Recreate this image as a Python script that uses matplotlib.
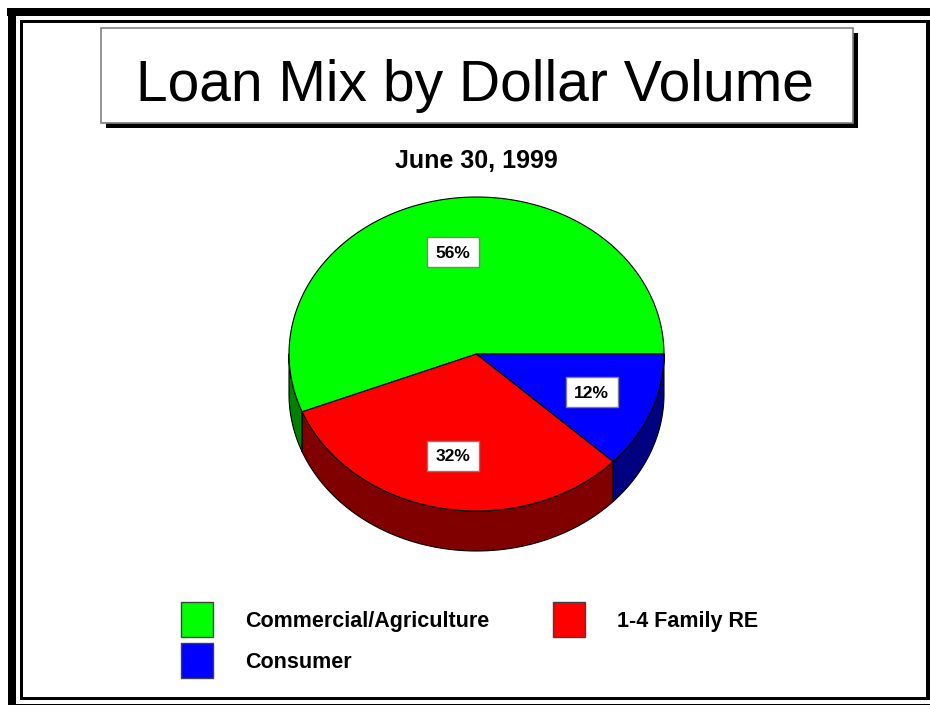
import numpy as np
import matplotlib
matplotlib.use("Agg")
import matplotlib.pyplot as plt
from matplotlib.patches import Rectangle, Polygon

plt.rcParams["font.family"] = ["Liberation Sans", "DejaVu Sans"]

TITLE = "Loan Mix by Dollar Volume"
SUBTITLE = "June 30, 1999"
CATEGORIES = ["Commercial/Agriculture", "1-4 Family RE", "Consumer"]
SHARES = [56, 32, 12]
TOP_COLORS = ["#00ff00", "#ff0000", "#0000ff"]
SIDE_COLORS = ["#008000", "#800000", "#000080"]

W, H = 930, 705
CX, CY = 476.5, 354.0
RX, RY = 187.5, 157.0
DEPTH = 40.0
LABEL_R = 0.66


def ell(t_deg, dy=0.0):
    t = np.radians(t_deg)
    return np.column_stack([CX + RX * np.cos(t), CY - RY * np.sin(t) + dy])


fig = plt.figure(figsize=(W / 100, H / 100), dpi=100)
ax = fig.add_axes([0, 0, 1, 1])
ax.set_xlim(0, W)
ax.set_ylim(H, 0)
ax.axis("off")


def block(x0, y0, x1, y1, color="black", **kw):
    ax.add_patch(Rectangle((x0, y0), x1 - x0, y1 - y0, facecolor=color,
                           edgecolor="none", **kw))


# page frame
block(7, 8, 930, 16)
block(8, 8, 16, 704)
block(8, 703.5, 930, 704.5)
block(20, 20, 930, 23)
block(20, 20, 23, 700)
block(926, 20, 930, 700)
block(20, 696.5, 930, 700)

# title box with drop shadow
block(106, 33, 858, 128)
ax.add_patch(Rectangle((101, 28), 752, 95, facecolor="white",
                       edgecolor="#808080", linewidth=1.2))
ax.text(475, 101, TITLE, ha="center", va="baseline", fontsize=41)
ax.text(476, 168, SUBTITLE, ha="center", va="baseline", fontsize=18,
        fontweight="bold")

# pie angles (counterclockwise from 3 o'clock)
bounds = np.concatenate([[0], np.cumsum(SHARES)]) / np.sum(SHARES) * 360.0

# side walls (front half only)
for a0, a1, col in zip(bounds[:-1], bounds[1:], SIDE_COLORS):
    lo, hi = max(a0, 180.0), min(a1, 360.0)
    if hi <= lo:
        continue
    t = np.linspace(lo, hi, 100)
    pts = np.vstack([ell(t), ell(t[::-1], DEPTH)])
    ax.add_patch(Polygon(pts, closed=True, facecolor=col, edgecolor="black",
                         linewidth=0.8, joinstyle="round"))

# top faces
for a0, a1, col in zip(bounds[:-1], bounds[1:], TOP_COLORS):
    t = np.linspace(a0, a1, 200)
    pts = np.vstack([[CX, CY], ell(t)])
    ax.add_patch(Polygon(pts, closed=True, facecolor=col, edgecolor="black",
                         linewidth=0.8, joinstyle="round"))

# percentage labels
for a0, a1, v in zip(bounds[:-1], bounds[1:], SHARES):
    m = np.radians((a0 + a1) / 2)
    lx = CX + LABEL_R * RX * np.cos(m)
    ly = CY - LABEL_R * RY * np.sin(m)
    ax.add_patch(Rectangle((lx - 26, ly - 15), 52, 30, facecolor="white",
                           edgecolor="#808080", linewidth=1.0))
    ax.text(lx, ly + 1, f"{v}%", ha="center", va="center", fontsize=12.5,
            fontweight="bold")

# legend
legend_pos = [(181, 602), (553, 602), (181, 643)]
for (x, y), lab, col in zip(legend_pos, CATEGORIES, TOP_COLORS):
    ax.add_patch(Rectangle((x, y), 32, 35, facecolor=col, edgecolor="#404040",
                           linewidth=1.0))
    ax.text(x + 64, y + 20, lab, ha="left", va="center", fontsize=15.5,
            fontweight="bold")

fig.savefig("out.png", dpi=100)
